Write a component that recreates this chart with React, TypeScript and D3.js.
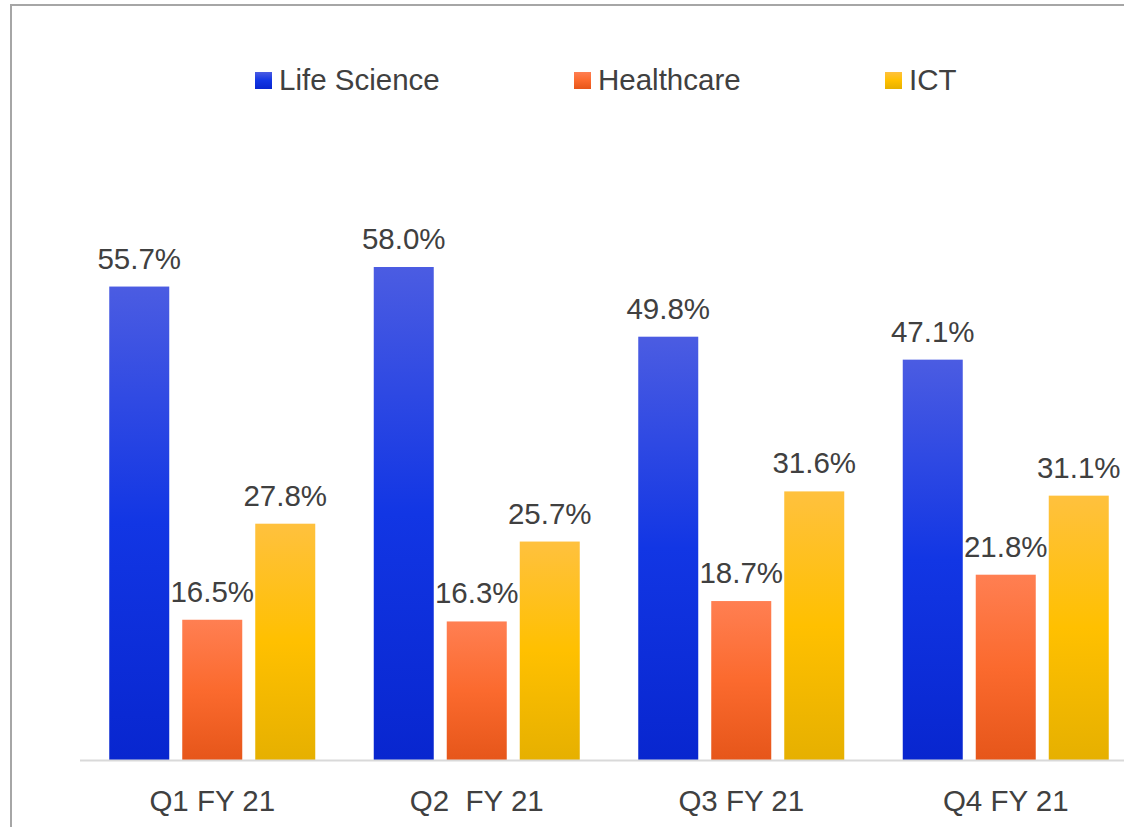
import React from 'react';
import * as d3 from 'd3';

const quarters = ['Q1 FY 21', 'Q2  FY 21', 'Q3 FY 21', 'Q4 FY 21'];
const seriesNames = ['Life Science', 'Healthcare', 'ICT'];
const lifeScience = [55.7, 58.0, 49.8, 47.1];
const healthcare = [16.5, 16.3, 18.7, 21.8];
const ict = [27.8, 25.7, 31.6, 31.1];

// gradient stops per series: top, middle, bottom
const gradients = [
  ['#4b5ce2', '#1236e4', '#0826cf'],
  ['#ff7f52', '#fb6a2e', '#e6561a'],
  ['#ffc13e', '#ffc000', '#e6b000'],
];

const W = 1124;
const H = 827;
const baseY = 760;
const font = '"Liberation Sans", Arial, sans-serif';
const textColor = '#404040';
const fs = 29.5;

const App = () => {
  const series = [lifeScience, healthcare, ict];

  const x0 = d3.scaleBand<string>().domain(quarters).range([80, 1138]).paddingInner(0).paddingOuter(0);
  const y = d3.scaleLinear().domain([0, 70]).range([baseY, baseY - 595]);
  const barW = 60;
  const step = 73;

  const legendX = [255, 574, 885];

  return (
    <>
      <style>{'html,body{margin:0;padding:0;overflow:hidden;}'}</style>
      <svg width={W} height={H} style={{ position: 'absolute', left: 0, top: 0, display: 'block' }}>
        <defs>
          {gradients.map((g, i) => (
            <linearGradient key={i} id={`grad${i}`} x1="0" y1="0" x2="0" y2="1">
              <stop offset="0%" stopColor={g[0]} />
              <stop offset="50%" stopColor={g[1]} />
              <stop offset="100%" stopColor={g[2]} />
            </linearGradient>
          ))}
        </defs>
        <rect x={0} y={0} width={W} height={H} fill="#fff" />
        {/* frame: only top and left edges are inside the picture */}
        <line x1={11} x2={W} y1={5} y2={5} stroke="#a6a6a6" strokeWidth={2} />
        <line x1={11} x2={11} y1={4} y2={H} stroke="#a6a6a6" strokeWidth={2} />

        {/* legend */}
        {seriesNames.map((name, i) => (
          <g key={name}>
            <rect x={legendX[i]} y={72} width={17} height={17} fill={`url(#grad${i})`} />
            <text x={legendX[i] + 24} y={90} fontFamily={font} fontSize={fs} fill={textColor}>
              {name}
            </text>
          </g>
        ))}

        {/* bars */}
        {quarters.map((q, qi) => {
          const center = (x0(q) as number) + x0.bandwidth() / 2;
          return (
            <g key={q}>
              {series.map((vals, si) => {
                const bx = center + (si - 1) * step - barW / 2;
                const top = y(vals[qi]);
                return (
                  <g key={si}>
                    <rect x={bx} y={top} width={barW} height={baseY - top} fill={`url(#grad${si})`} />
                    <text
                      x={bx + barW / 2}
                      y={top - 18}
                      textAnchor="middle"
                      fontFamily={font}
                      fontSize={fs}
                      fill={textColor}
                    >
                      {vals[qi].toFixed(1)}%
                    </text>
                  </g>
                );
              })}
              <text x={center} y={811} textAnchor="middle" fontFamily={font} fontSize={fs} fill={textColor} style={{ whiteSpace: 'pre' }}>
                {q}
              </text>
            </g>
          );
        })}

        {/* baseline */}
        <line x1={80} x2={W} y1={baseY + 0.5} y2={baseY + 0.5} stroke="#d9d9d9" strokeWidth={2} />
      </svg>
    </>
  );
};

export default App;
